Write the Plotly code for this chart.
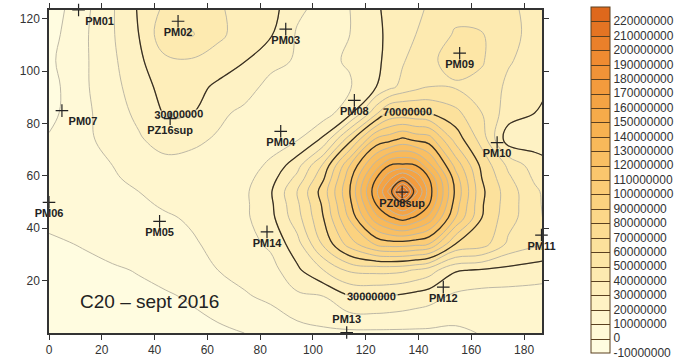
import plotly.graph_objects as go

# ---------------- data ----------------
x_grid = [0, 14, 24, 34, 44, 54, 64, 74, 84, 94, 104, 114, 124, 129, 134, 139, 144, 154, 164, 174, 184, 188]
y_grid = [0, 14, 24, 34, 44, 49, 54, 59, 64, 74, 84, 94, 104, 114, 124]

# concentration field in millions, one row per y_grid value (bottom -> top)
z_millions = [
    [-8, -7, -6, -5, -4, -3, -2, 0, 3, 6, 8, 8, 8, 8, 8, 8, 8, 8, 10.5, 12, 13, 13],
    [-8, -6, -4, -2, -1, 1, 5, 9, 12, 18, 20, 29.5, 30.5, 29.5, 28, 26, 24, 18, 16, 16, 16, 16],
    [-5, -3, -1, 0.5, 3, 5, 10, 13, 16, 28, 40, 52, 53, 53, 52, 49, 45, 31, 29, 27, 25, 24],
    [-2, 1, 3, 5, 7, 9, 12, 16, 22, 36, 62, 85, 102, 105, 105, 103, 100, 70, 65, 48, 42, 40.5],
    [3, 5, 6, 7, 9, 11, 13, 18, 27, 46, 70, 102, 137, 148, 155, 148, 137, 100, 70, 54, 43, 39],
    [3.5, 5.5, 7, 8.5, 11, 12.5, 14, 18, 28, 48, 72, 107, 150, 168, 183, 168, 150, 105, 71, 55, 42.5, 38.5],
    [4, 6, 8, 10, 13, 14, 15, 18, 29, 50, 75, 110, 158, 183, 225, 183, 155, 108, 72, 55, 42, 38],
    [3, 6, 9, 12, 15, 15.5, 15.5, 16.5, 26, 43, 69, 107, 150, 168, 183, 168, 150, 105, 70, 52, 38.5, 35.5],
    [2, 6, 10, 14, 17, 17, 16, 15, 22, 36, 62, 100, 135, 150, 152, 150, 133, 97, 67, 48, 35, 33],
    [1, 8, 14, 19, 24, 22, 19, 16, 15, 19, 32, 66, 102, 106, 112, 107, 105, 76, 56, 24, 25, 24],
    [-3, 8, 16, 22, 31, 30.5, 22, 18, 14, 13, 15, 27, 58, 72, 73, 72, 70, 63, 50, 35, 30, 28],
    [-4, 9, 17, 25, 34, 34, 28, 24, 17, 14, 14, 19, 30, 37, 43, 47, 50, 49, 47, 38, 33, 31],
    [-2, 9, 18, 28, 38, 39, 36, 30.5, 23, 19, 18, 21, 28, 33, 39, 44, 48.5, 53, 51, 41, 36, 35],
    [-4, 9, 19, 30, 47, 51, 42, 36, 31, 19, 17, 20, 28, 32, 36, 40, 44, 51, 50.5, 43, 37, 36],
    [-6, 8, 19, 31, 42, 44, 41, 37, 34, 22, 17, 20, 29, 32, 35, 38, 41, 47, 47, 42, 37, 36],
]

well_names = ["PM01", "PM02", "PM03", "PM07", "PZ16sup", "PM04", "PM08", "PM09",
              "PM10", "PZ08sup", "PM11", "PM12", "PM13", "PM06", "PM05", "PM14"]
well_x = [11.2, 48.9, 89.7, 4.9, 45.9, 87.8, 115.7, 155.6,
          169.8, 133.8, 186.6, 149.4, 112.8, 0.0, 41.9, 82.6]
well_y = [123.3, 119.0, 116.0, 84.9, 81.8, 77.0, 88.8, 106.8,
          72.7, 53.8, 37.4, 17.5, 0.2, 49.9, 42.6, 38.6]
well_textpos = ["bottom right", "bottom center", "bottom center", "bottom right",
                "bottom center", "bottom center", "bottom center", "bottom center",
                "bottom center", "bottom center", "bottom center", "bottom center",
                "top center", "bottom center", "bottom center", "bottom center"]

colorbar_ticks = list(range(-10_000_000, 230_000_000, 10_000_000))
x_ticks = [0, 20, 40, 60, 80, 100, 120, 140, 160, 180]
y_ticks = [20, 40, 60, 80, 100, 120]
title_text = "C20 – sept 2016"

# ---------------- figure ----------------
z = [[v * 1e6 for v in row] for row in z_millions]

colorscale = [
    [0.0, "#FFFCE0"],
    [0.083, "#FFF6CF"],
    [0.25, "#FDE7A8"],
    [0.458, "#FBCF7A"],
    [0.667, "#F7B04E"],
    [0.875, "#EF8A30"],
    [1.0, "#DE681C"],
]

fill_contours = dict(start=0, end=220e6, size=10e6, coloring="fill", showlines=True)

fig = go.Figure()

# trace that only provides the colorbar (dark separators); hidden under the next fill
fig.add_trace(go.Contour(
    x=x_grid, y=y_grid, z=z, zmin=-10e6, zmax=230e6, autocontour=False,
    contours=fill_contours, colorscale=colorscale,
    line=dict(color="#5a4020", width=1, smoothing=1.1),
    showscale=True, hoverinfo="skip",
    colorbar=dict(
        x=1.1, xanchor="left", xpad=0, y=0.4748, yanchor="middle", ypad=0,
        lenmode="pixels", len=346, thickness=19,
        outlinewidth=1, outlinecolor="#5a4020",
        tickvals=colorbar_ticks, ticktext=[str(v) for v in colorbar_ticks],
        ticks="", tickfont=dict(family="Liberation Sans", size=12, color="#333"),
    ),
))

# visible filled map with light grey isolines
fig.add_trace(go.Contour(
    x=x_grid, y=y_grid, z=z, zmin=-10e6, zmax=230e6, autocontour=False,
    contours=fill_contours, colorscale=colorscale,
    line=dict(color="#bdb8a6", width=1, smoothing=1.1),
    showscale=False, hoverinfo="skip",
))

# dark labelled isolines
fig.add_trace(go.Contour(
    x=x_grid, y=y_grid, z=z, autocontour=False,
    contours=dict(start=30e6, end=70e6, size=40e6, coloring="none",
                  showlabels=True, labelformat=".0f",
                  labelfont=dict(family="Liberation Sans", size=11, color="#222", weight="bold")),
    line=dict(color="#3a3020", width=1.3, smoothing=1.1),
    showscale=False, hoverinfo="skip",
))

# dark unlabelled isolines
fig.add_trace(go.Contour(
    x=x_grid, y=y_grid, z=z, autocontour=False,
    contours=dict(start=110e6, end=190e6, size=40e6, coloring="none"),
    line=dict(color="#3a3020", width=1.3, smoothing=1.1),
    showscale=False, hoverinfo="skip",
))

# wells
fig.add_trace(go.Scatter(
    x=well_x, y=well_y, mode="markers+text", text=well_names,
    textposition=well_textpos, cliponaxis=False,
    marker=dict(symbol="cross-thin", size=9, line=dict(width=1.2, color="#222"), color="#222"),
    textfont=dict(family="Liberation Sans", size=11, color="#222", weight="bold"),
    showlegend=False, hoverinfo="skip",
))

fig.add_annotation(
    x=38, y=12.2, xref="x", yref="y", text=title_text, showarrow=False,
    font=dict(family="Liberation Sans", size=19, color="#222"),
)

axis_common = dict(
    showline=True, linecolor="#333", linewidth=1.5, mirror="ticks",
    ticks="outside", ticklen=5, tickcolor="#333", tickwidth=1.2,
    showgrid=False, zeroline=False,
    tickfont=dict(family="Liberation Sans", size=12, color="#333"),
)

fig.update_xaxes(range=[0, 186.8], tickvals=x_ticks, **axis_common)
fig.update_yaxes(range=[0, 123.3], tickvals=y_ticks, **axis_common)

fig.update_layout(
    width=675, height=360,
    margin=dict(l=49, r=128, t=3, b=20),
    paper_bgcolor="white", plot_bgcolor="white",
    showlegend=False,
)

fig.write_html("out.html")
